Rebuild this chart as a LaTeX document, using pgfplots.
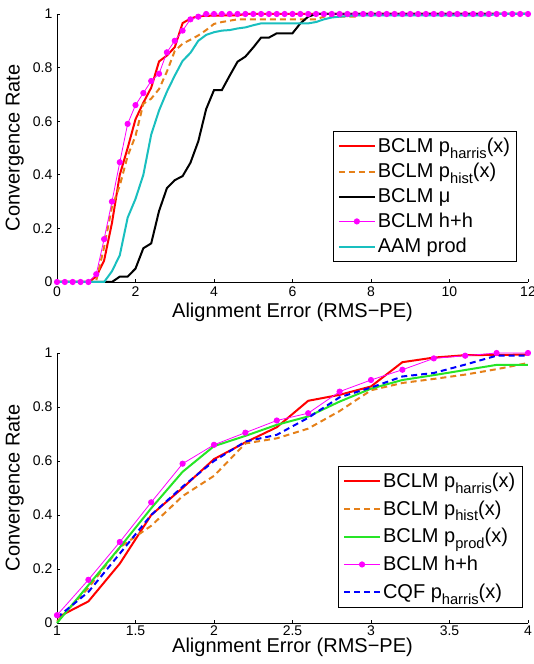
\documentclass[border=0pt]{standalone}
\usepackage{fontspec}
\setmainfont{Liberation Sans}
\usepackage{pgfplots}
\usepackage{pgfplotstable}
\pgfplotsset{compat=1.18}

\definecolor{mred}{rgb}{1,0,0}
\definecolor{morange}{rgb}{0.90,0.50,0.10}
\definecolor{mcyan}{rgb}{0.10,0.75,0.75}
\definecolor{mgreen}{rgb}{0.15,0.90,0.15}
\definecolor{mblue}{rgb}{0,0,1}
\definecolor{mmag}{rgb}{1,0,1}

\newcommand\sub[1]{\raisebox{-0.55ex}{\fontsize{11}{11}\selectfont #1}}

% BCLM p_harris(x)
\pgfplotstableread{
x y
0 0
0.8 0
1.0 0.02
1.2 0.08
1.4 0.22
1.6 0.40
1.8 0.50
2.0 0.607
2.2 0.669
2.4 0.725
2.6 0.823
2.8 0.845
3.0 0.876
3.2 0.966
3.4 0.983
3.6 0.992
3.8 0.993
4.0 0.994
4.6 0.995
4.8 1.0
12 1.0
}\harris

% BCLM p_hist(x)
\pgfplotstableread{
x y
0 0
0.8 0
1.0 0.005
1.2 0.13
1.4 0.28
1.6 0.36
1.8 0.47
2.0 0.545
2.2 0.665
2.4 0.684
2.6 0.72
2.8 0.785
3.0 0.862
3.2 0.889
3.4 0.904
3.6 0.92
3.8 0.94
4.0 0.963
4.2 0.97
4.4 0.975
4.6 0.98
6.6 0.98
6.8 0.99
7.6 0.99
7.8 1.0
12 1.0
}\hist

% BCLM mu
\pgfplotstableread{
x y
0 0
1.4 0
1.6 0.02
1.8 0.02
2.0 0.05
2.2 0.126
2.4 0.144
2.6 0.265
2.8 0.35
3.0 0.38
3.2 0.395
3.4 0.445
3.6 0.525
3.8 0.645
4.0 0.716
4.2 0.716
4.4 0.77
4.6 0.822
4.8 0.841
5.0 0.875
5.2 0.912
5.4 0.912
5.6 0.928
5.8 0.928
6.0 0.928
6.2 0.965
6.4 0.99
6.6 1.0
12 1.0
}\mu

% BCLM h+h
\pgfplotstableread{
x y
0 0
0.2 0
0.4 0
0.6 0
0.8 0
1.0 0.029
1.2 0.16
1.4 0.30
1.6 0.447
1.8 0.59
2.0 0.66
2.2 0.705
2.4 0.75
2.6 0.777
2.8 0.857
3.0 0.90
3.2 0.938
3.4 0.98
3.6 0.99
3.8 1.0
4.0 1.0
4.2 1.0
4.4 1.0
4.6 1.0
4.8 1.0
5.0 1.0
5.2 1.0
5.4 1.0
5.6 1.0
5.8 1.0
6.0 1.0
6.2 1.0
6.4 1.0
6.6 1.0
6.8 1.0
7.0 1.0
7.2 1.0
7.4 1.0
7.6 1.0
7.8 1.0
8.0 1.0
8.2 1.0
8.4 1.0
8.6 1.0
8.8 1.0
9.0 1.0
9.2 1.0
9.4 1.0
9.6 1.0
9.8 1.0
10.0 1.0
10.2 1.0
10.4 1.0
10.6 1.0
10.8 1.0
11.0 1.0
11.2 1.0
11.4 1.0
11.6 1.0
11.8 1.0
12.0 1.0
}\hh

% AAM prod
\pgfplotstableread{
x y
0 0
1.2 0
1.4 0.04
1.6 0.10
1.8 0.24
2.0 0.31
2.2 0.40
2.4 0.55
2.6 0.64
2.8 0.71
3.0 0.77
3.2 0.825
3.4 0.855
3.6 0.90
3.8 0.922
4.0 0.932
4.2 0.938
4.4 0.94
4.6 0.946
4.8 0.95
5.0 0.958
5.2 0.965
6.4 0.965
6.6 0.97
6.8 0.98
7.0 0.987
7.2 0.99
7.6 0.995
11.0 0.995
11.2 1.0
12 1.0
}\aam

% BCLM p_prod(x)
\pgfplotstableread{
x y
1.0 0.0
1.2 0.14
1.4 0.28
1.6 0.425
1.8 0.56
2.0 0.655
2.2 0.693
2.4 0.734
2.6 0.765
2.8 0.82
3.0 0.868
3.2 0.90
3.4 0.918
3.6 0.937
3.8 0.956
4.0 0.956
}\prod

% CQF p_harris(x)
\pgfplotstableread{
x y
1.0 0.02
1.2 0.115
1.4 0.257
1.6 0.40
1.8 0.505
2.0 0.60
2.2 0.672
2.4 0.697
2.6 0.76
2.8 0.836
3.0 0.872
3.2 0.913
3.4 0.926
3.6 0.957
3.8 0.99
4.0 0.99
}\cqf

\pgfplotsset{
  myaxis/.style={
    scale only axis, width=353.25pt,
    axis lines=left, axis line style={-, line width=0.6pt},
    tick align=inside, major tick length=2.5pt,
    tick style={line width=0.6pt, black},
    ymin=0, ymax=1, ytick={0,0.2,0.4,0.6,0.8,1},
    clip=false,
    /pgf/number format/assume math mode=true,
    tick label style={font=\fontsize{10.5}{12}\selectfont},
    label style={font=\fontsize{15}{17}\selectfont},
    xlabel={Alignment Error (RMS−PE)},
    ylabel={Convergence Rate},
    legend cell align=left,
    legend style={draw=black, line width=0.6pt, anchor=south east,
      font=\fontsize{15}{17}\selectfont, row sep=3.5pt, inner sep=3.5pt,
      nodes={inner sep=1.5pt}},
    legend image code/.code={\draw[mark repeat=2,mark phase=2,##1]
      plot coordinates {(0pt,0pt) (13.5pt,0pt) (27pt,0pt)};},
  },
  lred/.style={mred, line width=1.5pt},
  lorange/.style={morange, line width=1.5pt, dash pattern=on 4.5pt off 3pt},
  lblack/.style={black, line width=1.5pt},
  lmag/.style={mmag, line width=0.6pt, mark=*, mark size=2pt, mark options={fill=mmag, draw=mmag}},
  lcyan/.style={mcyan, line width=1.5pt},
  lgreen/.style={mgreen, line width=1.5pt},
  lblue/.style={mblue, line width=1.5pt, dash pattern=on 4.5pt off 3pt},
}

\begin{document}
\begin{tikzpicture}
\begin{axis}[myaxis, at={(0,255.75pt)}, height=201pt,
  xmin=0, xmax=12, xtick={0,2,4,6,8,10,12},
  xlabel style={yshift=2pt},
  legend style={at={(0.977,0.075)}}]
\addplot[lred] table {\harris};
\addlegendentry{BCLM p\sub{harris}(x)}
\addplot[lorange] table {\hist};
\addlegendentry{BCLM p\sub{hist}(x)}
\addplot[lblack] table {\mu};
\addlegendentry{BCLM μ}
\addplot[lmag] table {\hh};
\addlegendentry{BCLM h+h}
\addplot[lcyan] table {\aam};
\addlegendentry{AAM prod}
\end{axis}

\begin{axis}[myaxis, at={(0,0)}, height=202.5pt,
  xmin=1, xmax=4, xtick={1,1.5,2,2.5,3,3.5,4},
  restrict x to domain=1:4,
  xticklabel style={yshift=1.5pt},
  xlabel style={yshift=5pt},
  legend style={at={(0.988,0.057)}, row sep=5.5pt}]
\addplot[lred] table {\harris};
\addlegendentry{BCLM p\sub{harris}(x)}
\addplot[lorange] table {\hist};
\addlegendentry{BCLM p\sub{hist}(x)}
\addplot[lgreen] table {\prod};
\addlegendentry{BCLM p\sub{prod}(x)}
\addplot[lmag] table {\hh};
\addlegendentry{BCLM h+h}
\addplot[lblue] table {\cqf};
\addlegendentry{CQF p\sub{harris}(x)}
\end{axis}
\pgfresetboundingbox
\path (-42.75pt,-30.75pt) rectangle (357pt,467.25pt);
\end{tikzpicture}
\end{document}
